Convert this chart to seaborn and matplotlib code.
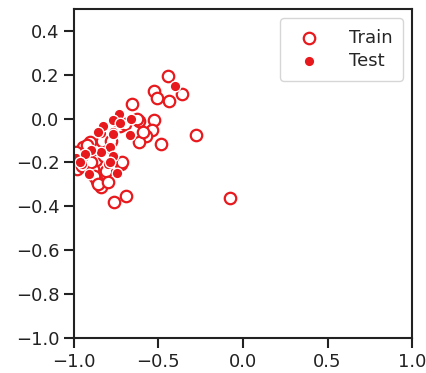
import matplotlib.pyplot as plt
import seaborn as sns

# Embedding coordinates
train_x = [-0.442, -0.527, -0.509, -0.436, -0.361, -0.655, -0.614, -0.527, -0.538, -0.574,
           -0.614, -0.485, -0.278, -0.075, -0.691, -0.763, -0.720, -0.842, -0.838, -0.629,
           -0.728, -0.836, -0.905, -0.945, -0.960, -0.718, -0.866, -0.886,
           -0.984, -0.590, -0.700, -0.930, -0.870, -0.810, -0.880, -0.950, -0.780, -0.900,
           -0.820, -0.860, -0.990, -0.920, -0.800]
train_y = [0.194, 0.124, 0.093, 0.081, 0.110, 0.067, -0.011, -0.006, -0.050, -0.081,
           -0.107, -0.117, -0.075, -0.360, -0.352, -0.380, -0.209, -0.279, -0.314, -0.001,
           -0.032, -0.100, -0.108, -0.131, -0.176, -0.200, -0.284, -0.230,
           -0.230, -0.062, -0.024, -0.160, -0.190, -0.240, -0.260, -0.215, -0.100, -0.200,
           -0.170, -0.300, -0.150, -0.120, -0.290]

test_x = [-0.404, -0.734, -0.771, -0.663, -0.670, -0.769, -0.840, -0.785, -0.842, -0.901,
          -0.767, -0.801, -0.953, -0.913, -0.746, -0.988, -0.827, -0.767, -0.935, -0.787,
          -0.964, -0.856, -0.730]
test_y = [0.148, 0.021, -0.006, -0.001, -0.075, -0.059, -0.067, -0.128, -0.151, -0.143,
          -0.169, -0.209, -0.206, -0.254, -0.248, -0.180, -0.032, -0.070, -0.161, -0.200,
          -0.200, -0.062, -0.020]

red = "#e8191d"

sns.set_style("ticks")
plt.rcParams["font.family"] = ["DejaVu Sans"]

fig = plt.figure(figsize=(4.27, 3.73), dpi=100)
ax = fig.add_axes([0.173, 0.094, 0.792, 0.882])

sns.scatterplot(x=train_x, y=train_y, ax=ax, s=68, facecolor="white",
                edgecolor=red, linewidth=1.6, label="Train")
sns.scatterplot(x=test_x, y=test_y, ax=ax, s=58, color=red,
                edgecolor="white", linewidth=1.0, label="Test")

ax.set_xlim(-1.0, 1.0)
ax.set_ylim(-1.0, 0.5)
ax.set_xticks([-1.0, -0.5, 0.0, 0.5, 1.0])
ax.set_yticks([-1.0, -0.8, -0.6, -0.4, -0.2, 0.0, 0.2, 0.4])
ax.tick_params(labelsize=13, length=7, width=1.5, color="#222222", labelcolor="#222222")
for sp in ax.spines.values():
    sp.set_linewidth(1.5)
    sp.set_color("#222222")

ax.legend(loc="upper right", fontsize=13, frameon=True, handletextpad=1.2,
          borderpad=0.6, labelspacing=0.3)

fig.savefig("out.png", dpi=100)
